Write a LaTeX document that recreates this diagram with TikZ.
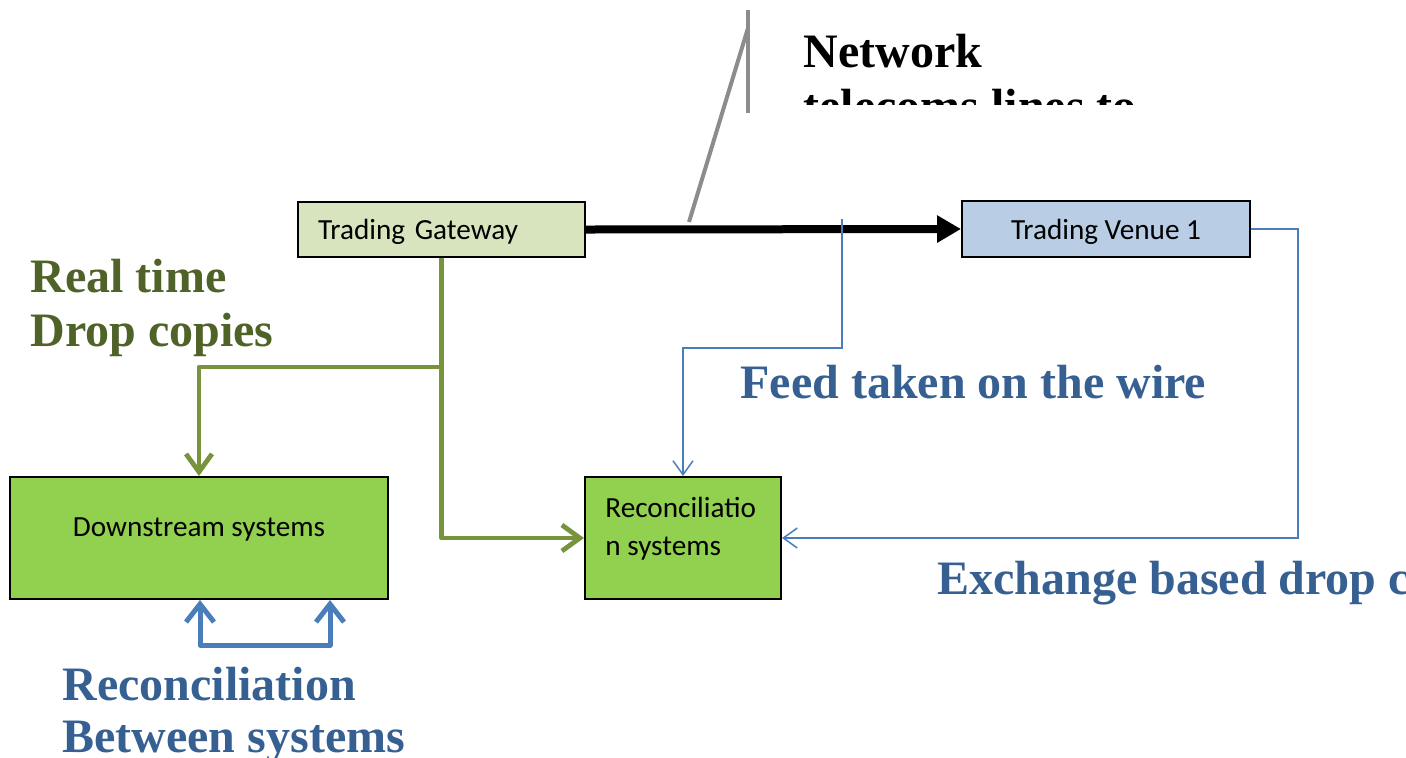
\documentclass[tikz,border=0pt]{standalone}
\usepackage{fontspec}
\setmainfont{Liberation Serif}
\newfontfamily\boxfont{Carlito}
\usetikzlibrary{arrows.meta}
\definecolor{gwfill}{HTML}{D7E4BD}
\definecolor{venuefill}{HTML}{B9CDE5}
\definecolor{sysfill}{HTML}{92D050}
\definecolor{gline}{HTML}{77933C}
\definecolor{gtext}{HTML}{4F6228}
\definecolor{bline}{HTML}{4A7EBB}
\definecolor{btext}{HTML}{376092}
\definecolor{callout}{HTML}{8C8C8C}
\begin{document}
\begin{tikzpicture}[x=0.5pt,y=-0.5pt,
  boxnode/.style={draw=black, line width=1pt, inner sep=0pt},
  boxtext/.style={font=\boxfont\fontsize{14.6}{19}\selectfont, inner sep=0pt},
  biglabel/.style={font=\bfseries\fontsize{24}{28}\selectfont, inner sep=0pt, anchor=base west},
  greenarrow/.style={draw=gline, line width=2.4pt, line join=round, -{Straight Barb[length=9pt,width=13pt]}},
  bluethin/.style={draw=bline, line width=0.75pt, -{Straight Barb[length=7pt,width=10pt]}},
  bluebracket/.style={draw=bline, line width=2.5pt, line join=round, {Straight Barb[length=9pt,width=14pt]}-{Straight Barb[length=9pt,width=14pt]}},
  blackarrow/.style={draw=black, line width=4pt, -{Triangle[length=12pt,width=13pt]}},
  calloutline/.style={draw=callout, line width=2pt}]
\useasboundingbox (0,0) rectangle (1406,757);
\clip (0,0) rectangle (1406,757);

% boxes
\node[boxnode, fill=gwfill, minimum width=143.5pt, minimum height=27.5pt, text depth=0pt,
      text width=123.5pt, align=left, font=\boxfont\fontsize{14.6}{17}\selectfont] (gw) at (441.5,229.5) {Trading Gateway};
\node[boxnode, fill=venuefill, minimum width=144pt, minimum height=28pt, text depth=0pt,
      font=\boxfont\fontsize{14.6}{17}\selectfont] (venue) at (1106,229) {Trading Venue 1};
\node[boxnode, fill=sysfill, minimum width=189pt, minimum height=61pt] (down) at (199,538) {};
\node[boxtext, text depth=0pt] (downlbl) at (199,527) {Downstream systems};
\node[boxnode, fill=sysfill, minimum width=98pt, minimum height=61pt] (recon) at (683,538) {};
\node[boxtext, align=left, anchor=north west] (reconlbl) at (605,497) {Reconciliatio\\n systems};

% callout
\coordinate (cfoot) at (689,222);
\coordinate (ctop) at (748,28);
\coordinate (vtop) at (748,10);
\coordinate (vbot) at (748,113);
\draw[calloutline] (cfoot) -- (ctop);
\draw[calloutline] (vtop) -- (vbot);
\node[biglabel] (net1) at (803,67) {Network};
\begin{scope}
  \clip (780,0) rectangle (1406,104);
  \node[biglabel] (net2) at (803,122) {telecoms lines to};
\end{scope}

% connectors
\draw[blackarrow] (gw.east) -- (venue.west);
\draw[greenarrow] (gw.south) |- (recon.west);
\coordinate (gbranch) at (441.5,367);
\draw[greenarrow] (gbranch) -| (down.north);

\coordinate (tap) at (842,219);
\coordinate (tapturn) at (842,348);
\draw[bluethin] (tap) -- (tapturn) -| (recon.north);
\coordinate (venueturn) at (1298,229);
\draw[bluethin] (venue.east) -- (venueturn) |- (recon.east);

\coordinate (brL) at (200,645);
\coordinate (brR) at (330,645);
\draw[bluebracket] (brL |- down.south) -- (brL) -- (brR) -- (brR |- down.south);

% labels
\node[biglabel, text=gtext] (rt1) at (30,292) {Real time};
\node[biglabel, text=gtext] (rt2) at (30,346) {Drop copies};
\node[biglabel, text=btext] (feed) at (740,398) {Feed taken on the wire};
\node[biglabel, text=btext] (exch) at (937,594) {Exchange based drop copies};
\node[biglabel, text=btext] (rec1) at (62,700) {Reconciliation};
\node[biglabel, text=btext] (rec2) at (62,752) {Between systems};
\end{tikzpicture}
\end{document}
